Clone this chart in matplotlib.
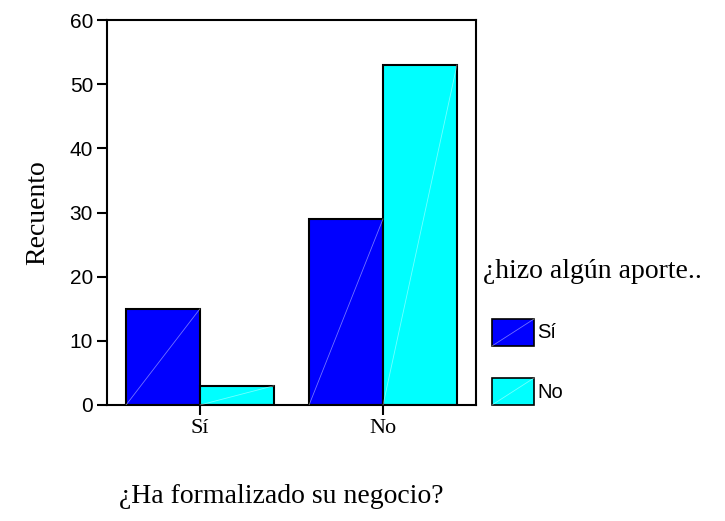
import matplotlib.pyplot as plt
from matplotlib.patches import Rectangle
import numpy as np

# Counts by formalization status, split by contribution answer
categories = ['Sí', 'No']
series = ['Sí', 'No']
counts_si = [15, 29]
counts_no = [3, 53]
colors = ['#0000ff', '#00ffff']

W, H = 725, 521
fig = plt.figure(figsize=(W / 100, H / 100), dpi=100)
ax = fig.add_axes([107 / W, 1 - 405 / H, (476 - 107) / W, (405 - 20) / H])

x = np.arange(len(categories))
width = 0.404
for i, (vals, col) in enumerate(zip([counts_si, counts_no], colors)):
    offs = x + (i - 1) * width
    ax.bar(offs, vals, width=width, align='edge', color=col,
           edgecolor='black', linewidth=1.5, zorder=2)
    # faint diagonal stroke across each bar
    for xo, v in zip(offs, vals):
        ax.plot([xo, xo + width], [0, v], color='white', alpha=0.45,
                lw=0.6, zorder=3)

ax.set_xlim(-0.508, 1.508)
ax.set_ylim(0, 60)
ax.set_yticks(range(0, 61, 10))
ax.set_xticks(x)
ax.set_xticklabels(categories, fontfamily='Liberation Serif', fontsize=16)
for lab in ax.get_yticklabels():
    lab.set_fontfamily('Liberation Sans')
    lab.set_fontsize(15)
ax.tick_params(axis='both', direction='out', length=7, width=1.5, pad=3)
for s in ax.spines.values():
    s.set_linewidth(1.5)

ax.set_ylabel('Recuento', fontfamily='Liberation Serif', fontsize=20, labelpad=14)
fig.text(281 / W, 1 - 503 / H, '¿Ha formalizado su negocio?',
         fontfamily='Liberation Serif', fontsize=20, ha='center', va='baseline')

# legend
fig.text(483 / W, 1 - 278 / H, '¿hizo algún aporte..',
         fontfamily='Liberation Serif', fontsize=20, ha='left', va='baseline')
for k, (name, col) in enumerate(zip(series, colors)):
    y0 = 346 + 59 * k
    fig.patches.append(Rectangle((492 / W, 1 - y0 / H), 42 / W, 27 / H,
                                 transform=fig.transFigure, facecolor=col,
                                 edgecolor='black', linewidth=1.2))
    fig.lines.append(plt.Line2D([492 / W, 534 / W], [1 - y0 / H, 1 - (y0 - 27) / H],
                                transform=fig.transFigure, color='white',
                                alpha=0.45, lw=0.6))
    fig.text(537 / W, 1 - (y0 - 13) / H, name, fontfamily='Liberation Sans',
             fontsize=14.5, ha='left', va='center')

fig.savefig('out.png', dpi=100)
